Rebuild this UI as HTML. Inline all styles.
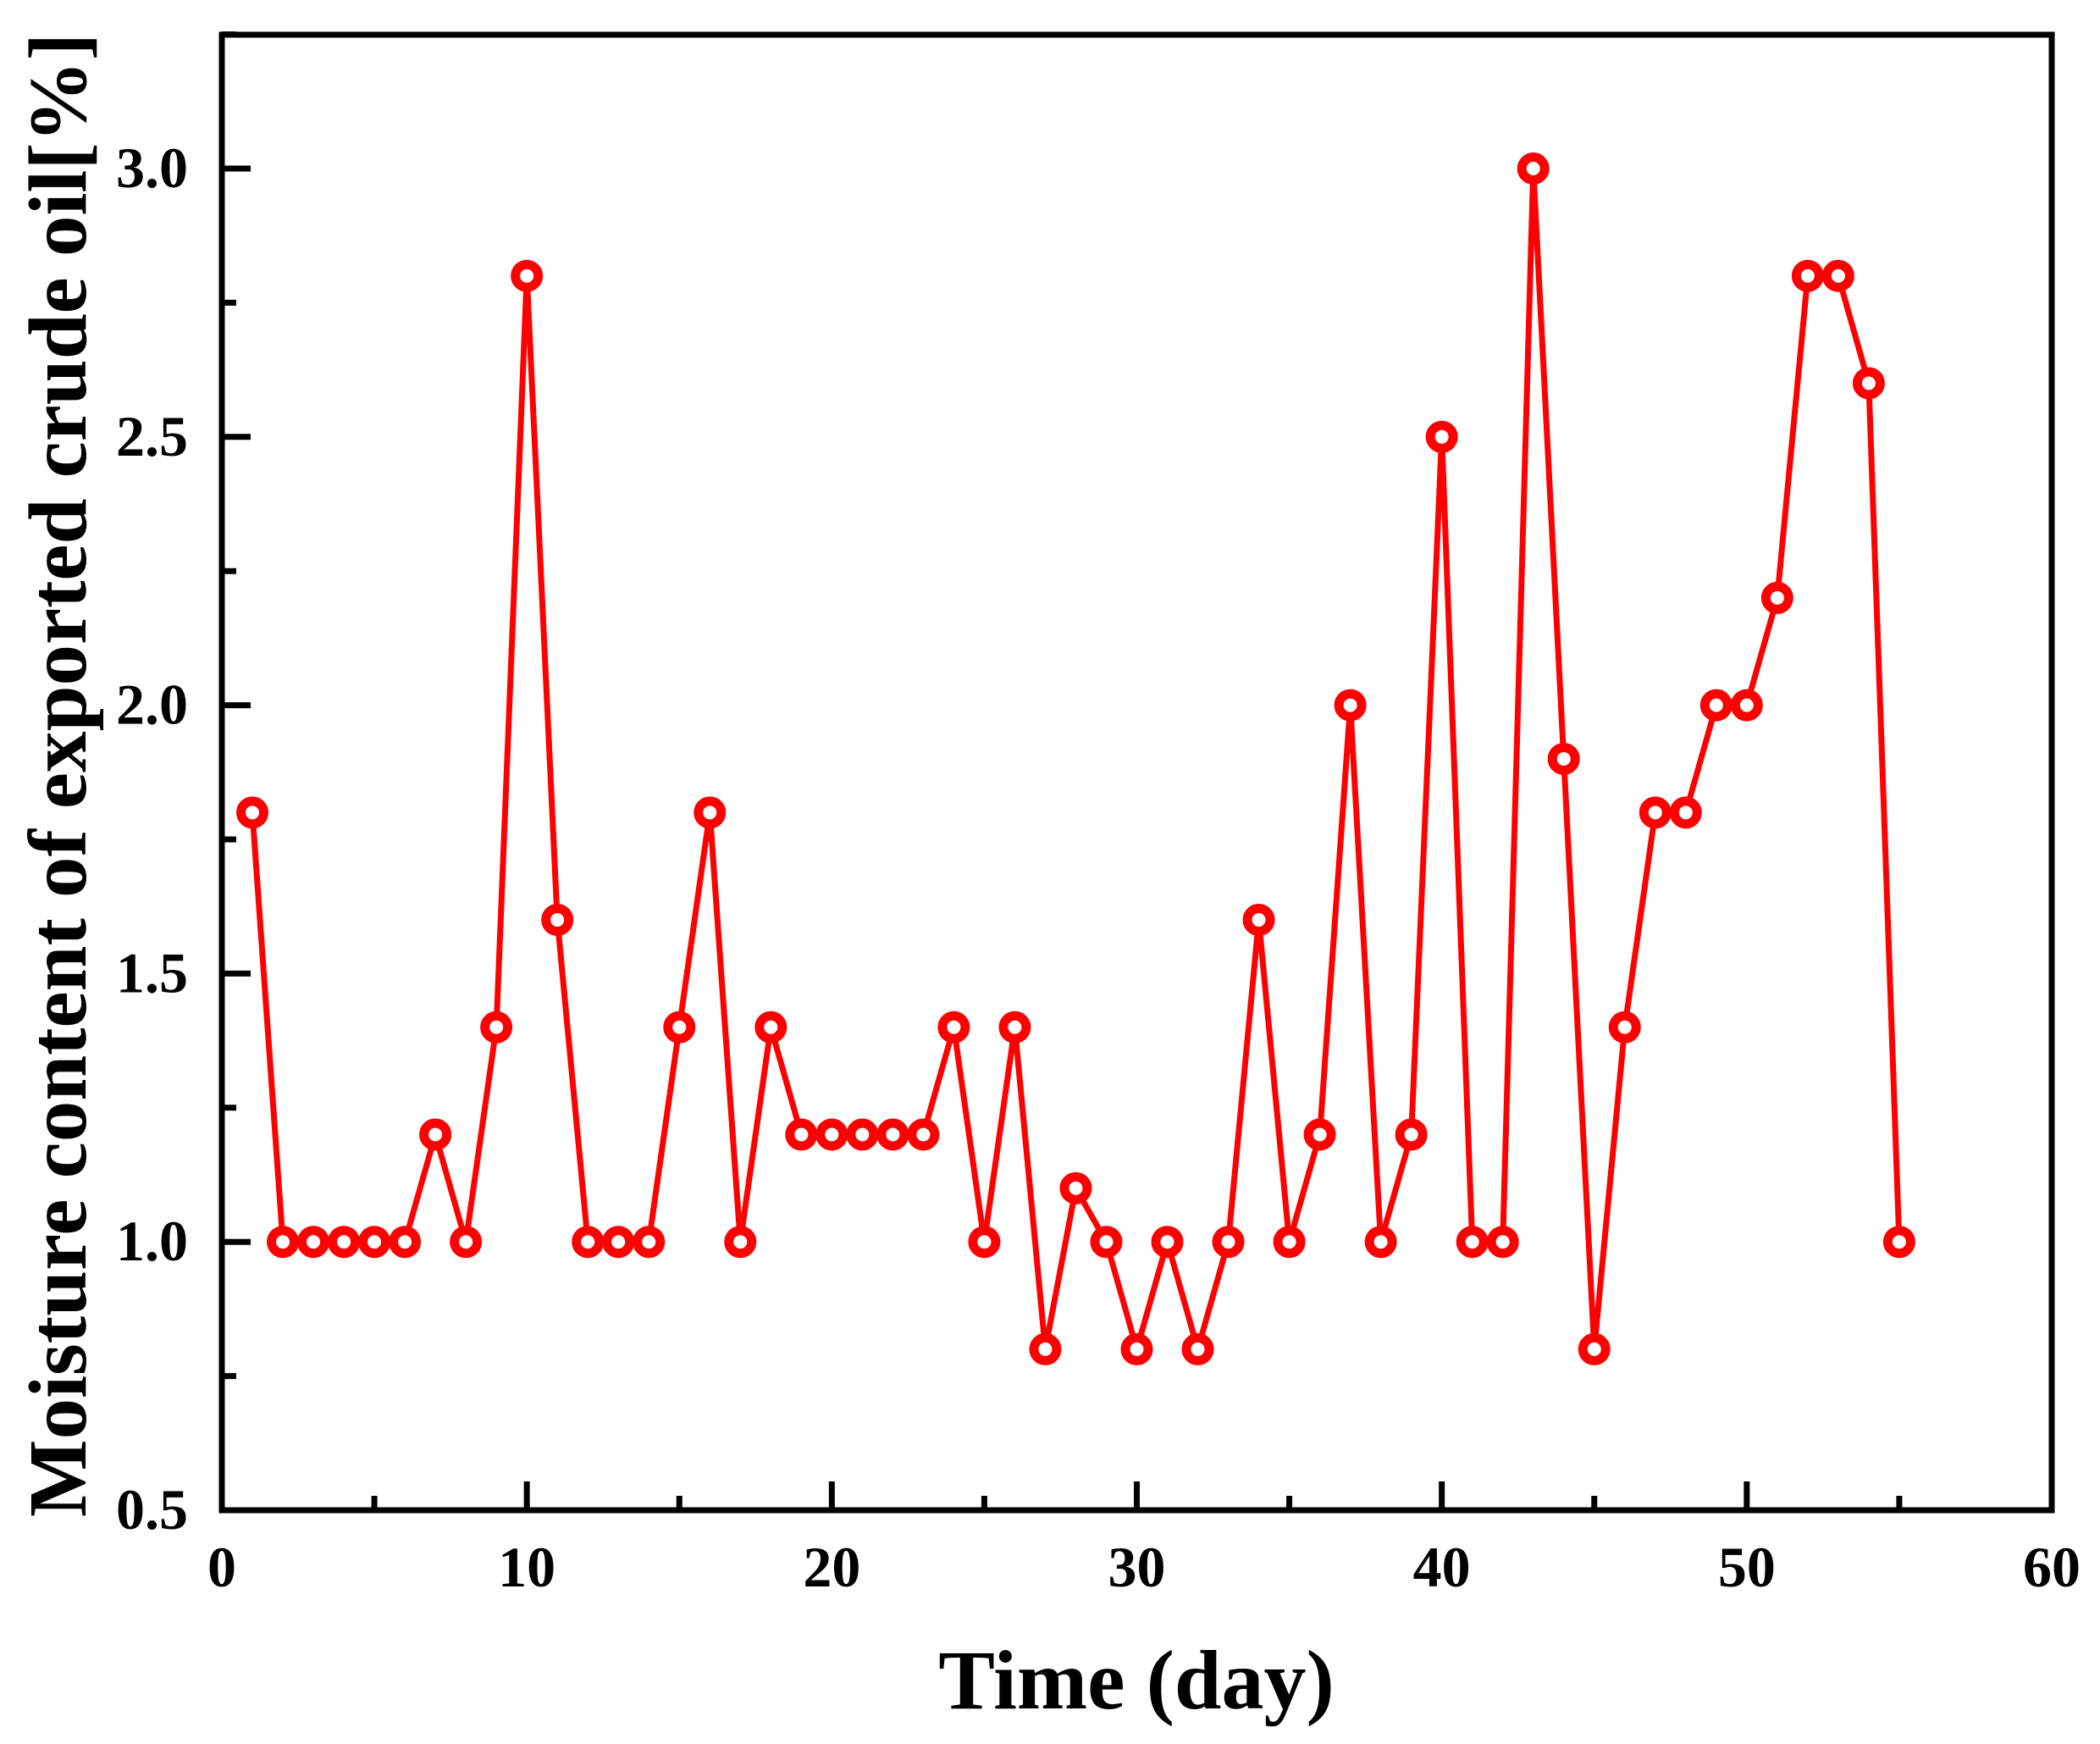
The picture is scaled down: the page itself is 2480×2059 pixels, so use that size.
<!DOCTYPE html>
<html><head><meta charset="utf-8"><style>
html,body{margin:0;padding:0;background:#fff;}
svg{display:block;}
text{font-family:"Liberation Serif",serif;font-weight:bold;fill:#000;}
</style></head><body>
<svg id="chart" width="2480" height="2059" viewBox="0 0 2480 2059" xmlns="http://www.w3.org/2000/svg">
<g id="ticks"></g>
<g id="series"></g>
<rect x="262" y="41" width="2161" height="1742" fill="none" stroke="#000" stroke-width="7"/>
<text x="1342" y="2017" font-size="100" text-anchor="middle">Time (day)</text>
<text transform="translate(101,915) rotate(-90)" font-size="97" text-anchor="middle">Moisture content of exported crude oil[%]</text>
</svg>
<script>
const days = [1,2,3,4,5,6,7,8,9,10,11,12,13,14,15,16,17,18,19,20,21,22,23,24,25,26,27,28,29,30,31,32,33,34,35,36,37,38,39,40,41,42,43,44,45,46,47,48,49,50,51,52,53,54,55];
const moisture = [1.8,1.0,1.0,1.0,1.0,1.0,1.2,1.0,1.4,2.8,1.6,1.0,1.0,1.0,1.4,1.8,1.0,1.4,1.2,1.2,1.2,1.2,1.2,1.4,1.0,1.4,0.8,1.1,1.0,0.8,1.0,0.8,1.0,1.6,1.0,1.2,2.0,1.0,1.2,2.5,1.0,1.0,3.0,1.9,0.8,1.4,1.8,1.8,2.0,2.0,2.2,2.8,2.8,2.6,1.0];
const xTicks = [0,10,20,30,40,50,60];
const yTicks = [0.5,1.0,1.5,2.0,2.5,3.0];
const yTickLabels = ["0.5","1.0","1.5","2.0","2.5","3.0"];

const NS = "http://www.w3.org/2000/svg";
const X0=262, X1=2423, Y0=1783, Y1=41;
const xMin=0, xMax=60, yMin=0.5, yMax=3.0+158/633.6;
function sx(v){return X0+(v-xMin)/(xMax-xMin)*(X1-X0);}
function sy(v){return Y0-(v-yMin)/(yMax-yMin)*(Y0-Y1);}
function mk(tag,attrs,parent){const e=document.createElementNS(NS,tag);for(const k in attrs)e.setAttribute(k,attrs[k]);parent.appendChild(e);return e;}

const tg=document.getElementById('ticks');
xTicks.forEach((t,i)=>{
  const l=mk('line',{x1:sx(t),x2:sx(t),y1:Y0,y2:Y0-34,stroke:'#000','stroke-width':7},tg);
  
  
  if(i<xTicks.length-1){
    const m=mk('line',{x1:sx(t+5),x2:sx(t+5),y1:Y0,y2:Y0-17,stroke:'#000','stroke-width':7},tg);
    
    
  }
  const tx=mk('text',{x:sx(t),y:1873,'font-size':68,'text-anchor':'middle'},tg);
  tx.textContent=String(t);
  
  
});
yTicks.forEach((t,i)=>{
  const l=mk('line',{x1:X0,x2:X0+34,y1:sy(t),y2:sy(t),stroke:'#000','stroke-width':7},tg);
  
  
  const m=mk('line',{x1:X0,x2:X0+17,y1:sy(t+0.25),y2:sy(t+0.25),stroke:'#000','stroke-width':7},tg);
  
  
  const tx=mk('text',{x:222,y:sy(t)+22,'font-size':68,'text-anchor':'end'},tg);
  tx.textContent=yTickLabels[i];
  
  
});

const sg=document.getElementById('series');
const pts=days.map((d,i)=>sx(d)+','+sy(moisture[i])).join(' ');
const pl=mk('polyline',{points:pts,fill:'none',stroke:'#ff0000','stroke-width':7,'stroke-linejoin':'miter'},sg);


days.forEach((d,i)=>{
  const c=mk('circle',{cx:sx(d),cy:sy(moisture[i]),r:13.5,fill:'#fff',stroke:'#ff0000','stroke-width':11},sg);
  
  
});
</script>
</body></html>
